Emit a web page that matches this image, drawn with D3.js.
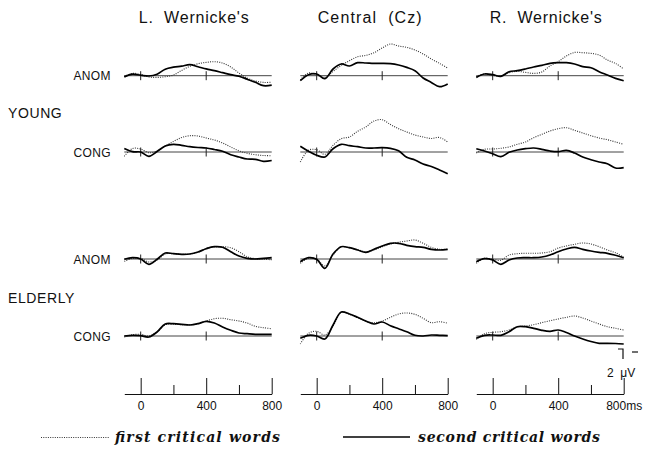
<!DOCTYPE html>
<html>
<head>
<meta charset="utf-8">
<script src="https://cdn.jsdelivr.net/npm/d3@7/dist/d3.min.js"></script>
<style>
  body { margin: 0; background: #fff; }
  text { font-family: "Liberation Sans", Arial, sans-serif; fill: #111; }
</style>
</head>
<body>
<script>
// ERP grand averages, values in microvolts (negative plotted up), sampled every 50 ms
var times = [-100, -50, 0, 50, 100, 150, 200, 250, 300, 350, 400, 450, 500, 550, 600, 650, 700, 750, 800];
var sites = ["L.  Wernicke's", "Central  (Cz)", "R.  Wernicke's"];
var groups = ["YOUNG", "ELDERLY"];
var conditions = ["ANOM", "CONG"];
var axisTicks = [0, 200, 400, 600, 800];
var axisLabels = ["0", "", "400", "", "800"];
var legendLabels = ["first critical words", "second critical words"];

// [L. Wernicke's, Central, R. Wernicke's]
var youngAnomFirst = [
  [0.14, -0.46, -0.26, 0.26, 0.34, 0.2, -0.14, -1.06, -1.86, -2.4, -2.66, -2.8, -2.54, -1.74, -0.54, 0.46, 1.06, 1.34, 1.3],
  [0.86, -0.54, -0.14, 0.34, -0.86, -2.06, -3.0, -3.8, -4.06, -4.6, -5.54, -6.34, -5.94, -5.66, -5.14, -4.34, -3.34, -2.46, -1.54],
  [0.2, -0.4, -0.06, 0.06, -0.6, -0.86, -0.66, -0.46, -0.74, -1.94, -2.8, -3.94, -4.66, -4.6, -4.46, -4.14, -3.14, -2.46, -1.34]
];
var youngAnomSecond = [
  [0.24, -0.3, -0.1, 0.06, -0.3, -1.3, -1.7, -1.9, -2.2, -1.8, -1.35, -1.0, -0.6, -0.2, 0.1, 0.7, 1.3, 2.0, 1.9],
  [1.0, -0.2, -0.34, 0.6, -1.34, -2.34, -1.94, -2.6, -2.54, -2.46, -2.46, -2.4, -2.14, -1.66, -1.0, 0.46, 1.34, 2.2, 1.66],
  [0.34, -0.34, -0.2, 0.14, -0.8, -1.0, -1.34, -1.74, -2.06, -2.46, -2.6, -2.6, -2.34, -1.8, -1.6, -0.8, -0.14, 0.54, 1.0]
];
var youngCongFirst = [
  [0.86, -0.7, -0.6, 0.14, -0.2, -1.2, -2.1, -2.9, -3.26, -3.2, -2.8, -2.4, -1.8, -1.0, -0.24, 0.26, 0.54, 0.7, 0.74],
  [2.0, -0.34, -0.46, 0.46, -1.34, -2.66, -3.0, -4.14, -5.0, -6.2, -6.46, -5.5, -4.66, -4.0, -3.4, -3.0, -2.7, -2.9, -2.0],
  [0.2, -0.54, -0.6, -0.74, -1.0, -1.54, -2.0, -2.86, -3.54, -4.2, -4.66, -4.86, -4.34, -3.8, -3.26, -2.8, -2.46, -2.0, -1.54]
];
var youngCongSecond = [
  [-0.7, -0.06, 0, 0.86, -0.1, -1.2, -1.54, -1.34, -1.06, -0.9, -0.8, -0.5, -0.14, 0.54, 1.0, 1.4, 1.46, 1.86, 1.7],
  [-1.14, -0.14, 0.66, 1.0, -0.66, -1.54, -1.26, -1.06, -0.8, -0.8, -0.86, -0.74, -0.24, 1.06, 1.6, 2.4, 2.9, 3.6, 4.34],
  [-0.66, -0.2, 0.34, 0.94, 0.06, -0.4, -0.66, -0.8, -0.54, -0.2, -0.06, -0.34, 0.2, 1.0, 1.54, 2.0, 2.34, 3.2, 3.14]
];
var elderlyAnomFirst = [
  [0.46, -0.14, -0.14, 0.6, 0.2, -1.0, -1.06, -0.94, -1.0, -1.34, -2.14, -2.4, -2.46, -2.26, -1.46, -0.46, -0.06, 0.06, 0.14],
  [0.86, -0.14, 0.06, 1.4, -0.8, -2.46, -2.2, -1.86, -1.46, -1.8, -2.46, -3.0, -3.34, -3.6, -3.8, -3.14, -2.34, -1.94, -1.94],
  [0.86, -0.14, 0.06, 0.26, -0.8, -1.06, -1.14, -1.14, -1.2, -1.46, -2.2, -2.6, -2.94, -3.2, -3.0, -2.46, -1.8, -1.26, -0.34]
];
var elderlyAnomSecond = [
  [0.06, -0.26, 0, 1.06, 0.06, -1.2, -1.06, -0.94, -1.0, -1.4, -2.06, -2.46, -2.34, -1.46, -0.6, -0.14, 0, -0.14, -0.26],
  [0.54, -0.26, 0.06, 1.86, -1.0, -2.46, -2.26, -1.8, -1.34, -1.94, -2.6, -3.14, -3.14, -2.74, -2.46, -2.34, -1.94, -1.8, -1.94],
  [0.54, -0.06, 0.2, 1.06, 0.2, -0.2, -0.26, -0.26, -0.4, -0.8, -1.46, -2.0, -2.34, -1.94, -1.6, -1.34, -1.14, -0.74, -0.26]
];
var elderlyCongFirst = [
  [0.2, -0.26, -0.34, 0, -0.8, -2.26, -2.34, -2.26, -2.26, -2.46, -3.0, -3.46, -3.54, -3.26, -3.0, -2.6, -1.94, -1.66, -1.46],
  [1.6, -0.54, -0.94, -0.2, -2.0, -4.74, -4.34, -3.66, -2.94, -2.66, -3.0, -3.74, -4.4, -4.6, -4.34, -3.54, -2.66, -2.86, -2.54],
  [0.66, -0.46, -0.74, -0.86, -1.2, -1.8, -2.0, -2.26, -2.66, -3.06, -3.4, -3.74, -4.0, -3.6, -3.0, -2.4, -1.86, -1.54, -1.2]
];
var elderlyCongSecond = [
  [0, -0.14, -0.06, 0.2, -0.8, -2.4, -2.46, -2.34, -2.2, -2.46, -2.94, -2.6, -1.8, -1.14, -0.6, -0.46, -0.34, -0.34, -0.34],
  [0.46, -0.14, 0, 0.6, -2.2, -4.8, -4.4, -3.74, -3.0, -2.4, -2.8, -2.06, -1.46, -0.86, -0.14, 0, -0.2, -0.14, -0.06],
  [0.46, -0.14, -0.2, -0.14, -0.86, -1.86, -1.86, -1.54, -1.14, -0.94, -1.2, -0.7, 0, 0.6, 1.1, 1.46, 1.46, 1.5, 1.6]
];

var rows = [
  { group: 0, cond: 0, first: youngAnomFirst, second: youngAnomSecond },
  { group: 0, cond: 1, first: youngCongFirst, second: youngCongSecond },
  { group: 1, cond: 0, first: elderlyAnomFirst, second: elderlyAnomSecond },
  { group: 1, cond: 1, first: elderlyCongFirst, second: elderlyCongSecond }
];

var width = 646, height = 450;
var colZero = [140.7, 316.7, 492.7];
var rowBase = [75.7, 152, 259, 336];
var groupLabelY = [118, 303];
var axisY = 394;

var svg = d3.select('body').append('svg')
    .attr('width', width)
    .attr('height', height);

var xScales = colZero.map(function(z) {
    return d3.scaleLinear().domain([-100, 800]).range([z - 16.4, z + 131]);
});
var yScales = rowBase.map(function(b) {
    return d3.scaleLinear().domain([-6, 6]).range([b - 30, b + 30]);
});

// column titles
svg.selectAll('text.site').data(sites).enter().append('text')
    .attr('class', 'site')
    .attr('x', function(d, i) { return colZero[i] + 53; })
    .attr('y', 23)
    .attr('text-anchor', 'middle')
    .attr('textLength', function(d, i) { return [110, 104, 112][i]; })
    .attr('lengthAdjust', 'spacing')
    .style('white-space', 'pre')
    .style('font-size', '16px')
    .text(function(d) { return d; });

// group and condition labels
svg.selectAll('text.group').data(groups).enter().append('text')
    .attr('class', 'group')
    .attr('x', 8)
    .attr('y', function(d, i) { return groupLabelY[i]; })
    .style('font-size', '14px')
    .style('letter-spacing', '0.6px')
    .text(function(d) { return d; });

svg.selectAll('text.cond').data(rows).enter().append('text')
    .attr('class', 'cond')
    .attr('x', 111)
    .attr('y', function(d, i) { return rowBase[i] + 4.5; })
    .attr('text-anchor', 'end')
    .style('font-size', '12px')
    .style('letter-spacing', '0.4px')
    .text(function(d) { return conditions[d.cond]; });

var line = function(x, y) {
    return d3.line()
        .x(function(d, i) { return x(times[i]); })
        .y(function(d) { return y(d); })
        .curve(d3.curveCatmullRom.alpha(0.5));
};

rows.forEach(function(row, r) {
    var y = yScales[r];
    sites.forEach(function(s, c) {
        var x = xScales[c];
        var g = svg.append('g').attr('class', 'panel');

        g.append('line')
            .attr('x1', x(-100)).attr('x2', x(800))
            .attr('y1', y(0)).attr('y2', y(0))
            .attr('stroke', '#444').attr('stroke-width', 1);

        g.selectAll('line.tick').data([0, 400]).enter().append('line')
            .attr('class', 'tick')
            .attr('x1', function(d) { return x(d); })
            .attr('x2', function(d) { return x(d); })
            .attr('y1', y(0) - 4.5).attr('y2', y(0) + 4.5)
            .attr('stroke', '#222').attr('stroke-width', 1);

        g.append('path')
            .datum(row.first[c])
            .attr('d', line(x, y))
            .attr('fill', 'none')
            .attr('stroke', '#333')
            .attr('stroke-width', 1.1)
            .attr('stroke-dasharray', '1 1.3');

        g.append('path')
            .datum(row.second[c])
            .attr('d', line(x, y))
            .attr('fill', 'none')
            .attr('stroke', '#000')
            .attr('stroke-width', 1.7);
    });
});

// time axes
xScales.forEach(function(x, c) {
    var axis = d3.axisBottom(x)
        .tickValues(axisTicks)
        .tickSizeInner(-16)
        .tickSizeOuter(0)
        .tickPadding(7)
        .tickFormat(function(d, i) {
            var lab = axisLabels[i];
            return (c === 2 && d === 800) ? lab + 'ms' : lab;
        });
    var ax = svg.append('g')
        .attr('transform', 'translate(0,' + axisY + ')')
        .call(axis);
    ax.select('.domain').attr('stroke', '#111').attr('stroke-width', 1.2);
    ax.selectAll('.tick line')
        .attr('stroke', '#111')
        .attr('y2', function(d) { return d % 400 === 0 ? -16 : -9; });
    ax.selectAll('.tick text')
        .style('font-family', '"Liberation Sans", Arial, sans-serif')
        .style('font-size', '12px')
        .attr('fill', '#111');
});

// calibration bar
var cal = svg.append('g');
cal.append('path')
    .attr('d', 'M618,349H623V359')
    .attr('fill', 'none').attr('stroke', '#111').attr('stroke-width', 1.2);
cal.append('line')
    .attr('x1', 632).attr('x2', 638).attr('y1', 352).attr('y2', 352)
    .attr('stroke', '#111').attr('stroke-width', 1.2);
cal.append('text')
    .attr('x', 607).attr('y', 377)
    .style('white-space', 'pre')
    .style('font-size', '12px')
    .text('2  \u03bcV');

// legend
var legend = svg.append('g');
legend.append('line')
    .attr('x1', 41).attr('x2', 110).attr('y1', 437.5).attr('y2', 437.5)
    .attr('stroke', '#333').attr('stroke-width', 1)
    .attr('stroke-dasharray', '1 1.3');
legend.append('line')
    .attr('x1', 343).attr('x2', 410).attr('y1', 437).attr('y2', 437)
    .attr('stroke', '#000').attr('stroke-width', 1.3);
legend.selectAll('text').data(legendLabels).enter().append('text')
    .attr('x', function(d, i) { return i === 0 ? 115 : 418; })
    .attr('y', 442)
    .attr('textLength', function(d, i) { return i === 0 ? 165 : 182; })
    .attr('lengthAdjust', 'spacing')
    .style('font-family', '"DejaVu Serif", serif')
    .style('font-style', 'italic')
    .style('font-weight', 'bold')
    .style('font-size', '14px')
    .text(function(d) { return d; });
</script>
</body>
</html>
